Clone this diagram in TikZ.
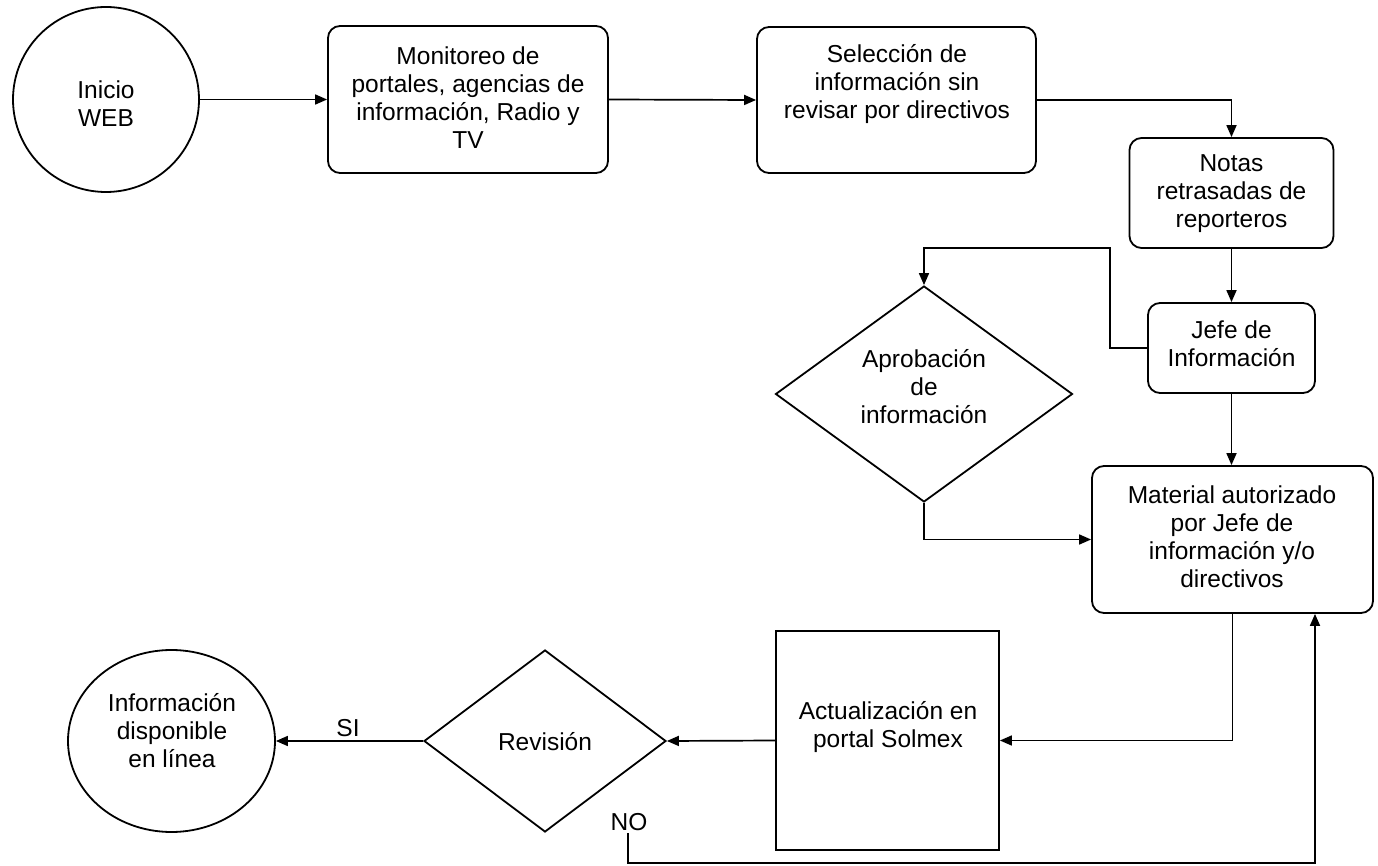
\documentclass[tikz,border=0pt]{standalone}
\usepackage{fontspec}
\setmainfont{Liberation Sans}
\usetikzlibrary{shapes.geometric,arrows.meta}
\begin{document}
\begin{tikzpicture}[x=0.5pt,y=-0.5pt,
  box/.style={draw, rounded corners=6pt, line width=0.9pt, inner sep=0pt},
  plainbox/.style={draw, line width=0.9pt, inner sep=0pt},
  oval/.style={draw, ellipse, line width=0.9pt, inner sep=0pt},
  decision/.style={draw, diamond, line width=0.9pt, inner sep=0pt},
  txt/.style={align=center, font=\fontsize{12.25pt}{14pt}\selectfont, inner sep=0pt},
  flow/.style={line width=0.85pt, -{Triangle[length=6pt,width=5pt]}},
]
\useasboundingbox (0,0) rectangle (1378,866);

% shapes
\node[oval, minimum width=93pt, minimum height=92.5pt] (inicio) at (106,99.5) {};
\node[box, minimum width=140pt, minimum height=73.5pt] (monit) at (468,99.5) {};
\node[box, minimum width=139.5pt, minimum height=73pt] (selec) at (896.5,100) {};
\node[box, minimum width=102pt, minimum height=55pt] (notas) at (1231.5,193) {};
\node[box, minimum width=83.5pt, minimum height=45pt] (jefe) at (1231.5,348) {};
\node[decision, minimum width=148.5pt, minimum height=108pt] (aprob) at (924,394) {};
\node[box, minimum width=140.5pt, minimum height=73.5pt] (mater) at (1232.5,539.5) {};
\node[plainbox, minimum width=111.5pt, minimum height=109.5pt] (actual) at (887.5,740.5) {};
\node[decision, minimum width=121pt, minimum height=91pt] (revis) at (545,741) {};
\node[oval, minimum width=103.5pt, minimum height=91pt] (info) at (171.5,741) {};

% texts
\node[txt] (inicio-t) at (106,104) {Inicio\\WEB};
\node[txt] (monit-t) at (468,98) {Monitoreo de\\portales, agencias de\\información, Radio y\\TV};
\node[txt] (selec-t) at (897,84) {Selección de\\información sin\\revisar por directivos};
\node[txt] (notas-t) at (1231.5,194) {Notas\\retrasadas de\\reporteros};
\node[txt] (jefe-t) at (1231.5,344) {Jefe de\\Información};
\node[txt] (aprob-t) at (924,387) {Aprobación\\de\\información};
\node[txt] (mater-t) at (1232,537) {Material autorizado\\por Jefe de\\información y/o\\directivos};
\node[txt] (actual-t) at (888,727) {Actualización en\\portal Solmex};
\node[txt] (revis-t) at (545,742) {Revisión};
\node[txt] (info-t) at (172,731) {Información\\disponible\\en línea};

% connectors
\draw[flow] (inicio.east) -- (monit.west);
\draw[flow] (monit.east) -- (selec.west);
\draw[flow] (selec.east) -| (notas.north);
\draw[flow] (notas.south) -- (notas.south |- jefe.north);
\coordinate (loopc) at (1110,248);
\draw[flow] (jefe.west) -| (loopc) -| (aprob.north);
\draw[flow] (aprob.south) |- (mater.west);
\draw[flow] (jefe.south) -- (jefe.south |- mater.north);
\draw[flow] (mater.south) |- (actual.east);
\draw[flow] (actual.west) -- (revis.east);
\draw[flow] (revis.west) -- node[txt, pos=0.51, yshift=6.5pt] (si) {SI} (info.east);
\node[txt] (no) at (629,822) {NO};
\coordinate (nostart) at (628,833);
\coordinate (nobottom) at (1315,863);
\draw[flow] (nostart) |- (nobottom) -- (nobottom |- mater.south);
\end{tikzpicture}
\end{document}
